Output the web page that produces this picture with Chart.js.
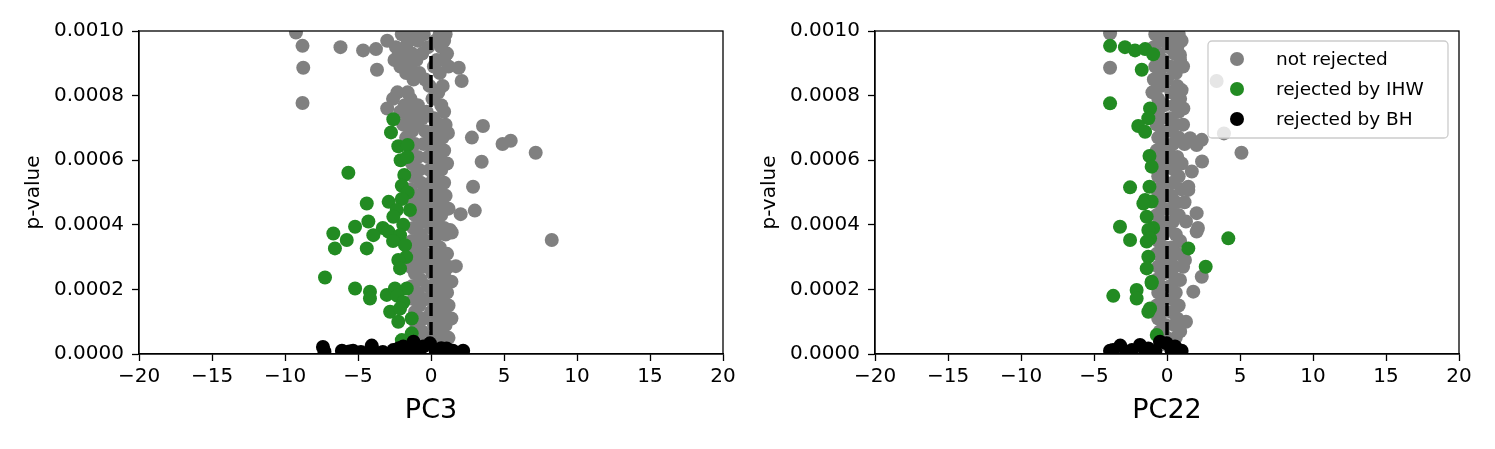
<!DOCTYPE html>
<html>
<head>
<meta charset="utf-8">
<script src="https://cdn.jsdelivr.net/npm/chart.js@4.4.1/dist/chart.umd.min.js"></script>
<style>
  body { margin: 0; background: #fff; }
  #wrap { position: relative; width: 1495px; height: 449px; }
  canvas { position: absolute; top: 0; }
</style>
</head>
<body>
<div id="wrap">
  <canvas id="pc3" width="747" height="449" style="left:0px"></canvas>
  <canvas id="pc22" width="747" height="449" style="left:736px"></canvas>
</div>
<script>
// [x, p-value]
const labels = ['not rejected', 'rejected by IHW', 'rejected by BH'];
const xTicks = [-20, -15, -10, -5, 0, 5, 10, 15, 20];
const yTicks = [0, 2e-4, 4e-4, 6e-4, 8e-4, 10e-4];

const pc3Grey = [
  [-9.25, 9.95e-4], [-8.8, 9.54e-4], [-6.2, 9.5e-4], [-4.65, 9.4e-4], [-3.77, 9.44e-4], [-3.0, 9.7e-4],
  [-8.75, 8.86e-4], [-3.7, 8.8e-4], [-8.8, 7.77e-4], [-3.0, 7.6e-4], [1.9, 8.86e-4], [2.1, 8.45e-4],
  [3.56, 7.06e-4], [2.8, 6.7e-4], [1.16, 6.84e-4], [4.9, 6.5e-4], [5.46, 6.6e-4], [7.17, 6.23e-4],
  [3.47, 5.95e-4], [2.88, 5.18e-4], [8.27, 3.53e-4], [3.0, 4.44e-4], [2.03, 4.33e-4], [1.42, 3.76e-4],
  [1.7, 2.72e-4], [1.3, 3.84e-4], [1.4, 2.24e-4], [1.4, 1.1e-4],
  [-2.0, 9.9e-4], [-1.3, 9.9e-4], [-0.5, 9.9e-4], [0.6, 9.9e-4], [1.0, 9.9e-4],
  [-1.6, 9.7e-4], [-0.9, 9.7e-4], [0.3, 9.7e-4], [0.9, 9.7e-4],
  [-2.4, 9.5e-4], [-1.7, 9.5e-4], [-0.2, 9.5e-4], [0.7, 9.5e-4],
  [-2.2, 9.3e-4], [-1.3, 9.3e-4], [-0.6, 9.3e-4], [1.1, 9.3e-4],
  [-2.5, 9.1e-4], [-1.8, 9.1e-4], [-1.0, 9.1e-4], [0.4, 9.1e-4], [0.9, 9.1e-4],
  [-2.1, 8.9e-4], [-1.4, 8.9e-4], [0.2, 8.9e-4], [1.2, 8.9e-4],
  [-1.7, 8.7e-4], [-0.8, 8.7e-4], [0.6, 8.7e-4],
  [-1.2, 8.5e-4], [-0.4, 8.5e-4],
  [-0.1, 8.3e-4], [0.8, 8.3e-4],
  [-2.3, 8.1e-4], [-1.6, 8.1e-4], [0.5, 8.1e-4],
  [-2.6, 7.9e-4], [-1.4, 7.9e-4], [0.1, 7.9e-4],
  [-1.8, 7.7e-4], [-0.9, 7.7e-4], [0.7, 7.7e-4],
  [-2.1, 7.5e-4], [-1.2, 7.5e-4], [-0.3, 7.5e-4], [0.9, 7.5e-4],
  [-1.5, 7.3e-4], [-0.6, 7.3e-4], [0.2, 7.3e-4],
  [-1.9, 7.1e-4], [-1.0, 7.1e-4], [0.6, 7.1e-4], [1.0, 7.1e-4],
  [-1.3, 6.9e-4], [-0.4, 6.9e-4], [0.3, 6.9e-4],
  [-1.7, 6.7e-4], [0.0, 6.7e-4], [0.8, 6.7e-4],
  [-1.1, 6.5e-4], [-0.5, 6.5e-4], [0.4, 6.5e-4],
  [-1.4, 6.3e-4], [0.1, 6.3e-4], [0.9, 6.3e-4],
  [-0.9, 6.1e-4], [-0.2, 6.1e-4], [0.6, 6.1e-4],
  [-1.3, 5.9e-4], [0.3, 5.9e-4], [1.1, 5.9e-4],
  [-0.8, 5.7e-4], [-0.1, 5.7e-4], [0.7, 5.7e-4],
  [-1.2, 5.5e-4], [0.2, 5.5e-4],
  [-0.7, 5.3e-4], [0.0, 5.3e-4], [0.9, 5.3e-4],
  [-1.4, 5.1e-4], [-0.3, 5.1e-4], [0.5, 5.1e-4],
  [-0.9, 4.9e-4], [0.1, 4.9e-4], [1.0, 4.9e-4],
  [-1.3, 4.7e-4], [-0.4, 4.7e-4], [0.6, 4.7e-4],
  [-0.8, 4.5e-4], [0.3, 4.5e-4], [1.2, 4.5e-4],
  [-1.1, 4.3e-4], [-0.2, 4.3e-4], [0.7, 4.3e-4],
  [-0.6, 4.1e-4], [0.4, 4.1e-4],
  [-1.2, 3.9e-4], [0.0, 3.9e-4], [0.9, 3.9e-4],
  [-0.7, 3.7e-4], [0.5, 3.7e-4], [1.0, 3.7e-4],
  [-1.3, 3.5e-4], [-0.3, 3.5e-4], [0.2, 3.5e-4],
  [-0.9, 3.3e-4], [0.6, 3.3e-4],
  [-1.5, 3.1e-4], [-0.4, 3.1e-4], [0.3, 3.1e-4], [1.1, 3.1e-4],
  [-1.0, 2.9e-4], [0.0, 2.9e-4], [0.8, 2.9e-4],
  [-1.4, 2.7e-4], [-0.5, 2.7e-4], [0.5, 2.7e-4], [1.2, 2.7e-4],
  [-1.1, 2.5e-4], [0.1, 2.5e-4], [0.9, 2.5e-4],
  [-0.7, 2.3e-4], [0.4, 2.3e-4], [1.0, 2.3e-4],
  [-1.3, 2.1e-4], [-0.2, 2.1e-4], [0.7, 2.1e-4],
  [-0.9, 1.9e-4], [0.2, 1.9e-4], [1.1, 1.9e-4],
  [-1.2, 1.7e-4], [-0.3, 1.7e-4], [0.6, 1.7e-4],
  [-0.8, 1.5e-4], [0.3, 1.5e-4], [1.2, 1.5e-4],
  [-1.1, 1.3e-4], [0.0, 1.3e-4], [0.8, 1.3e-4],
  [-0.5, 1.1e-4], [0.5, 1.1e-4],
  [-1.0, 0.9e-4], [0.2, 0.9e-4], [1.0, 0.9e-4],
  [-0.6, 0.7e-4], [0.7, 0.7e-4],
  [-0.9, 0.5e-4], [0.1, 0.5e-4], [1.2, 0.5e-4],
  [-0.4, 0.3e-4], [0.6, 0.3e-4]
];
const pc3Green = [
  [-2.58, 7.27e-4], [-2.74, 6.86e-4], [-2.24, 6.43e-4], [-1.6, 6.47e-4], [-2.08, 6.0e-4], [-1.62, 6.1e-4],
  [-5.66, 5.61e-4], [-1.83, 5.54e-4], [-2.0, 5.21e-4], [-1.6, 5.0e-4], [-2.0, 4.8e-4], [-4.4, 4.66e-4],
  [-2.9, 4.71e-4], [-2.35, 4.46e-4], [-1.44, 4.46e-4], [-2.58, 4.25e-4], [-4.29, 4.1e-4], [-1.9, 4.0e-4],
  [-5.2, 3.94e-4], [-3.3, 3.9e-4], [-6.69, 3.73e-4], [-5.77, 3.53e-4], [-6.58, 3.27e-4], [-4.4, 3.27e-4],
  [-3.95, 3.68e-4], [-2.92, 3.79e-4], [-2.12, 3.68e-4], [-2.6, 3.5e-4], [-1.78, 3.37e-4], [-1.7, 3.0e-4],
  [-2.24, 2.91e-4], [-2.12, 2.65e-4], [-7.26, 2.37e-4], [-5.2, 2.03e-4], [-4.18, 1.93e-4], [-4.18, 1.72e-4],
  [-3.03, 1.83e-4], [-2.47, 2.03e-4], [-1.66, 2.03e-4], [-2.3, 1.8e-4], [-1.9, 1.6e-4], [-2.8, 1.31e-4],
  [-2.12, 1.41e-4], [-2.24, 1.0e-4], [-1.32, 1.1e-4], [-1.32, 0.64e-4], [-2.0, 0.43e-4]
];
const pc3Black = [
  [-7.4, 0.22e-4], [-7.3, 0.08e-4], [-6.1, 0.1e-4], [-5.6, 0.08e-4], [-5.34, 0.1e-4], [-4.8, 0.06e-4],
  [-4.06, 0.26e-4], [-3.95, 0.1e-4], [-3.3, 0.06e-4], [-2.58, 0.12e-4], [-2.2, 0.18e-4], [-1.9, 0.23e-4],
  [-1.5, 0.08e-4], [-1.2, 0.38e-4], [-0.9, 0.15e-4], [-0.53, 0.23e-4], [-0.07, 0.33e-4], [0.3, 0.12e-4],
  [0.7, 0.18e-4], [1.07, 0.17e-4], [1.5, 0.1e-4], [2.2, 0.1e-4]
];

const pc22Grey = [
  [-3.9, 9.93e-4], [-3.9, 8.86e-4], [3.4, 8.45e-4], [3.9, 6.83e-4], [5.1, 6.23e-4], [2.4, 5.96e-4],
  [1.7, 5.65e-4], [1.46, 5.18e-4], [2.03, 6.47e-4], [2.38, 6.63e-4], [1.58, 6.68e-4], [1.12, 7.6e-4],
  [1.0, 8.17e-4], [0.89, 9.26e-4], [1.46, 5.08e-4], [2.03, 4.36e-4], [2.03, 3.79e-4], [2.12, 3.9e-4],
  [2.38, 2.39e-4], [1.8, 1.93e-4], [1.23, 2.91e-4], [0.89, 2.29e-4],
  [-0.8, 9.9e-4], [0.0, 9.9e-4], [0.8, 9.9e-4],
  [-0.5, 9.7e-4], [0.4, 9.7e-4], [1.0, 9.7e-4],
  [-0.9, 9.5e-4], [0.1, 9.5e-4], [0.7, 9.5e-4],
  [-0.6, 9.3e-4], [0.5, 9.3e-4],
  [-0.3, 9.1e-4], [0.9, 9.1e-4],
  [-0.8, 8.9e-4], [0.2, 8.9e-4], [1.1, 8.9e-4],
  [-0.5, 8.7e-4], [0.6, 8.7e-4],
  [-0.9, 8.5e-4], [0.0, 8.5e-4],
  [-0.4, 8.3e-4], [0.7, 8.3e-4],
  [-1.0, 8.1e-4], [0.3, 8.1e-4],
  [-0.6, 7.9e-4], [0.9, 7.9e-4],
  [-0.2, 7.7e-4], [0.5, 7.7e-4],
  [-0.8, 7.5e-4], [0.8, 7.5e-4],
  [-0.4, 7.3e-4], [0.2, 7.3e-4],
  [-0.7, 7.1e-4], [0.6, 7.1e-4], [1.1, 7.1e-4],
  [-0.3, 6.9e-4], [0.3, 6.9e-4],
  [-0.6, 6.7e-4], [0.8, 6.7e-4],
  [-0.2, 6.5e-4], [0.4, 6.5e-4], [1.2, 6.5e-4],
  [-0.7, 6.3e-4], [0.1, 6.3e-4],
  [-0.4, 6.1e-4], [0.7, 6.1e-4],
  [-0.8, 5.9e-4], [0.2, 5.9e-4], [1.0, 5.9e-4],
  [-0.3, 5.7e-4], [0.5, 5.7e-4],
  [-0.6, 5.5e-4], [0.8, 5.5e-4],
  [-0.1, 5.3e-4], [0.4, 5.3e-4],
  [-0.7, 5.1e-4], [1.0, 5.1e-4],
  [-0.3, 4.9e-4], [0.3, 4.9e-4],
  [-0.6, 4.7e-4], [0.6, 4.7e-4], [1.2, 4.7e-4],
  [-0.2, 4.5e-4], [0.2, 4.5e-4],
  [-0.7, 4.3e-4], [0.8, 4.3e-4],
  [-0.4, 4.1e-4], [0.4, 4.1e-4], [1.3, 4.1e-4],
  [-0.8, 3.9e-4], [0.0, 3.9e-4],
  [-0.3, 3.7e-4], [0.6, 3.7e-4],
  [-0.6, 3.5e-4], [0.9, 3.5e-4],
  [-0.1, 3.3e-4], [0.3, 3.3e-4],
  [-0.7, 3.1e-4], [0.7, 3.1e-4],
  [-0.3, 2.9e-4], [0.2, 2.9e-4],
  [-0.6, 2.7e-4], [0.5, 2.7e-4], [1.1, 2.7e-4],
  [-0.2, 2.5e-4], [0.3, 2.5e-4],
  [-0.7, 2.3e-4], [0.7, 2.3e-4],
  [-0.4, 2.1e-4], [0.2, 2.1e-4],
  [-0.6, 1.9e-4], [0.6, 1.9e-4],
  [-0.2, 1.7e-4], [0.4, 1.7e-4],
  [-0.7, 1.5e-4], [0.8, 1.5e-4],
  [-0.3, 1.3e-4], [0.3, 1.3e-4],
  [-0.6, 1.1e-4], [0.7, 1.1e-4], [1.3, 1.0e-4],
  [-0.1, 0.9e-4], [0.5, 0.9e-4],
  [-0.5, 0.7e-4], [0.9, 0.7e-4],
  [0.0, 0.5e-4], [0.6, 0.5e-4],
  [-0.4, 0.3e-4], [0.4, 0.3e-4]
];
const pc22Green = [
  [-3.9, 9.54e-4], [-2.88, 9.5e-4], [-2.19, 9.4e-4], [-1.5, 9.44e-4], [-0.95, 9.28e-4], [-1.73, 8.8e-4],
  [-3.9, 7.76e-4], [-1.16, 7.6e-4], [-1.28, 7.3e-4], [-1.97, 7.06e-4], [-1.5, 6.88e-4], [-1.2, 6.13e-4],
  [-1.05, 5.8e-4], [-2.53, 5.16e-4], [-1.2, 5.18e-4], [-1.5, 4.77e-4], [-1.05, 4.72e-4], [-1.62, 4.66e-4],
  [-1.39, 4.25e-4], [-0.95, 3.9e-4], [-3.22, 3.94e-4], [-2.53, 3.53e-4], [-1.28, 3.84e-4], [-1.16, 3.58e-4],
  [-1.39, 3.48e-4], [-1.28, 3.01e-4], [-1.39, 2.65e-4], [-1.05, 2.24e-4], [4.2, 3.58e-4], [1.46, 3.27e-4],
  [2.65, 2.7e-4], [-3.68, 1.8e-4], [-2.08, 1.98e-4], [-2.08, 1.72e-4], [-1.05, 2.19e-4], [-1.16, 1.41e-4],
  [-1.28, 1.31e-4], [-0.7, 0.59e-4]
];
const pc22Black = [
  [-3.9, 0.1e-4], [-3.7, 0.12e-4], [-3.2, 0.26e-4], [-2.8, 0.08e-4], [-2.4, 0.12e-4], [-1.85, 0.28e-4],
  [-1.5, 0.1e-4], [-1.28, 0.17e-4], [-0.8, 0.08e-4], [-0.48, 0.38e-4], [-0.02, 0.33e-4], [0.3, 0.12e-4],
  [0.55, 0.23e-4], [1.0, 0.1e-4]
];

Chart.defaults.font.family = '"DejaVu Sans", sans-serif';
Chart.defaults.color = '#000';

const toXY = arr => arr.map(([x, y]) => ({ x, y }));

// full box round the axes, like matplotlib spines
const frame = {
  id: 'frame',
  afterDatasetsDraw(chart) {
    const { ctx, chartArea: a } = chart;
    ctx.save();
    ctx.strokeStyle = '#000';
    ctx.lineWidth = 1.3;
    ctx.strokeRect(a.left, a.top, a.right - a.left, a.bottom - a.top);
    ctx.restore();
  }
};

// legend box inside the plot, upper right
const boxLegend = {
  id: 'boxLegend',
  afterDraw(chart, args, opts) {
    if (!opts.show) return;
    const { ctx, chartArea } = chart;
    const w = 240, h = 97;
    const x = chartArea.right - 11 - w, y = chartArea.top + 10;
    ctx.save();
    ctx.beginPath();
    if (ctx.roundRect) ctx.roundRect(x, y, w, h, 4); else ctx.rect(x, y, w, h);
    ctx.fillStyle = 'rgba(255,255,255,0.8)';
    ctx.fill();
    ctx.strokeStyle = '#cccccc';
    ctx.lineWidth = 1.3;
    ctx.stroke();
    ctx.font = '18.5px "DejaVu Sans"';
    ctx.textBaseline = 'middle';
    chart.data.datasets.filter(d => d.type === 'scatter').forEach((d, i) => {
      const cy = y + 18 + i * 30;
      ctx.beginPath();
      ctx.arc(x + 29, cy, 7, 0, Math.PI * 2);
      ctx.fillStyle = d.backgroundColor;
      ctx.fill();
      ctx.fillStyle = '#000';
      ctx.fillText(d.label, x + 68, cy + 1);
    });
    ctx.restore();
  }
};

function dots(label, data, color, order) {
  return {
    type: 'scatter', label, data: toXY(data), order,
    backgroundColor: color, borderWidth: 0, pointRadius: 7, pointHoverRadius: 7, clip: 0
  };
}

function makeChart(id, title, grey, green, black, legend) {
  new Chart(document.getElementById(id), {
    data: {
      datasets: [
        dots(labels[0], grey, '#808080', 3),
        dots(labels[1], green, '#228b22', 2),
        dots(labels[2], black, '#000000', 1),
        {
          type: 'line', label: 'zero', order: 0,
          data: [{ x: 0, y: yTicks[0] }, { x: 0, y: yTicks[yTicks.length - 1] }],
          borderColor: '#000', borderWidth: 3.5, borderDash: [13, 6], pointRadius: 0, clip: 0
        }
      ]
    },
    options: {
      responsive: false,
      animation: false,
      layout: { padding: { left: 0, top: 31, right: 24, bottom: 0 } },
      plugins: {
        legend: { display: false },
        tooltip: { enabled: false },
        boxLegend: { show: legend }
      },
      scales: {
        x: {
          type: 'linear',
          min: xTicks[0], max: xTicks[xTicks.length - 1],
          afterBuildTicks: s => { s.ticks = xTicks.map(v => ({ value: v })); },
          afterFit: s => { s.height = 95; },
          grid: { drawOnChartArea: false, drawTicks: true, tickLength: 7, tickColor: '#000', tickWidth: 1.3 },
          border: { display: true, color: '#000', width: 1.3 },
          ticks: {
            padding: 4, font: { size: 20 }, maxRotation: 0,
            callback: v => v < 0 ? '\u2212' + Math.abs(v) : String(v)
          },
          title: { display: true, text: title, font: { size: 27 }, padding: { top: 0, bottom: 22 } }
        },
        y: {
          type: 'linear',
          min: yTicks[0], max: yTicks[yTicks.length - 1],
          afterBuildTicks: s => { s.ticks = yTicks.map(v => ({ value: v })); },
          afterFit: s => { s.width = 139; },
          grid: { drawOnChartArea: false, drawTicks: true, tickLength: 7, tickColor: '#000', tickWidth: 1.3 },
          border: { display: true, color: '#000', width: 1.3 },
          ticks: { padding: 8, font: { size: 20 }, callback: v => v.toFixed(4) },
          title: { display: true, text: 'p-value', font: { size: 20 }, padding: { top: 22, bottom: 0 } }
        }
      }
    },
    plugins: [frame, boxLegend]
  });
}

makeChart('pc3', 'PC3', pc3Grey, pc3Green, pc3Black, false);
makeChart('pc22', 'PC22', pc22Grey, pc22Green, pc22Black, true);
</script>
</body>
</html>
